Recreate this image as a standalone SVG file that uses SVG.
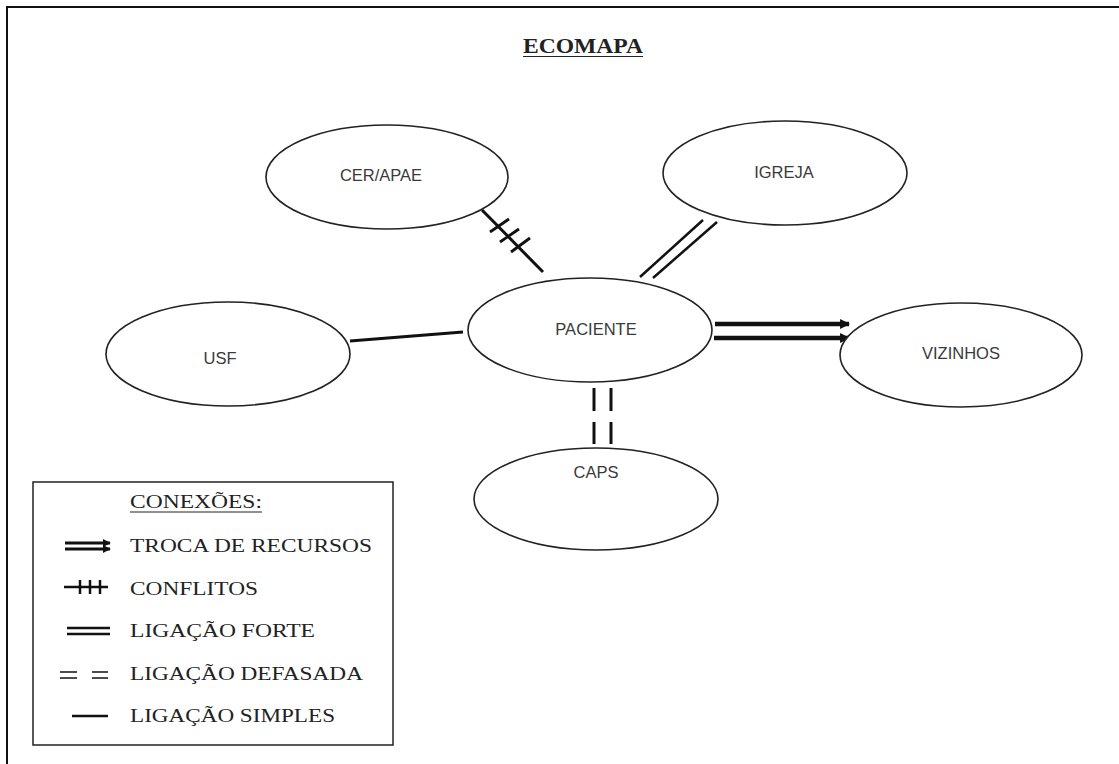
<svg xmlns="http://www.w3.org/2000/svg" width="1119" height="764" viewBox="0 0 1119 764">
<style>
.node ellipse{fill:#fff;stroke:#222;stroke-width:1.6}
.node text{font-family:"Liberation Sans",Arial,sans-serif;font-size:16.5px;fill:#3a3a3a;text-anchor:middle}
.ser{font-family:"Liberation Serif","Times New Roman",serif;fill:#222}
.ln{stroke:#111;fill:none;stroke-linecap:butt}
</style>
<defs>
<marker id="ah" viewBox="0 0 10 10" refX="9" refY="5" markerWidth="2.2" markerHeight="2.2" orient="auto" markerUnits="strokeWidth">
<path d="M0,0 L10,5 L0,10 z" fill="#111"/>
</marker>
<marker id="ahs" viewBox="0 0 10 10" refX="9" refY="5" markerWidth="2.6" markerHeight="2.6" orient="auto" markerUnits="strokeWidth">
<path d="M0,0 L10,5 L0,10 z" fill="#111"/>
</marker>
</defs>
<rect width="1119" height="764" fill="#fff"/>
<path d="M7,764 V7 H1119" fill="none" stroke="#111" stroke-width="2"/>

<g id="title">
<text class="ser" x="523" y="53" font-size="20" font-weight="bold" textLength="120" lengthAdjust="spacingAndGlyphs">ECOMAPA</text>
<line x1="523" y1="56.5" x2="643" y2="56.5" stroke="#222" stroke-width="1.2"/>
</g>

<g id="connectors">
<line class="ln" x1="482" y1="210" x2="543" y2="272" stroke-width="3"/>
<line class="ln" x1="490" y1="232" x2="509" y2="219" stroke-width="2.8"/>
<line class="ln" x1="500" y1="242" x2="519" y2="229" stroke-width="2.8"/>
<line class="ln" x1="511" y1="252" x2="530" y2="238" stroke-width="2.8"/>
<line class="ln" x1="640" y1="277" x2="703" y2="220" stroke-width="2.5"/>
<line class="ln" x1="653" y1="278" x2="717" y2="222" stroke-width="2.5"/>
<line class="ln" x1="715" y1="324" x2="849" y2="324" stroke-width="4.5" marker-end="url(#ah)"/>
<line class="ln" x1="714" y1="338" x2="849" y2="338" stroke-width="4.5" marker-end="url(#ah)"/>
<line class="ln" x1="594" y1="388" x2="594" y2="411" stroke-width="3"/>
<line class="ln" x1="611" y1="388" x2="611" y2="411" stroke-width="3"/>
<line class="ln" x1="594" y1="422" x2="594" y2="444" stroke-width="3"/>
<line class="ln" x1="611" y1="422" x2="611" y2="444" stroke-width="3"/>
<line class="ln" x1="350" y1="341" x2="463" y2="332" stroke-width="2.8"/>
</g>

<g id="node-cer" class="node">
<ellipse cx="387" cy="177" rx="121" ry="52"/>
<text x="381" y="181">CER/APAE</text>
</g>
<g id="node-igreja" class="node">
<ellipse cx="785" cy="173" rx="122" ry="52"/>
<text x="784" y="178">IGREJA</text>
</g>
<g id="node-usf" class="node">
<ellipse cx="228" cy="354" rx="122" ry="52"/>
<text x="220" y="364">USF</text>
</g>
<g id="node-paciente" class="node">
<ellipse cx="590" cy="330" rx="122" ry="52"/>
<text x="596" y="335">PACIENTE</text>
</g>
<g id="node-vizinhos" class="node">
<ellipse cx="961" cy="355" rx="121" ry="52"/>
<text x="961" y="359">VIZINHOS</text>
</g>
<g id="node-caps" class="node">
<ellipse cx="596" cy="499" rx="122" ry="51"/>
<text x="596" y="478">CAPS</text>
</g>

<g id="legend">
<rect x="33" y="482" width="360" height="263" fill="#fff" stroke="#222" stroke-width="1.5"/>
<text class="ser" x="130" y="508" font-size="19" textLength="132" lengthAdjust="spacingAndGlyphs">CONEXÕES:</text>
<line x1="130" y1="512" x2="262" y2="512" stroke="#222" stroke-width="1"/>
<line class="ln" x1="65" y1="543" x2="110" y2="543" stroke-width="3" marker-end="url(#ahs)"/>
<line class="ln" x1="65" y1="549" x2="110" y2="549" stroke-width="3" marker-end="url(#ahs)"/>
<text class="ser" x="130" y="552" font-size="19" textLength="242" lengthAdjust="spacingAndGlyphs">TROCA DE RECURSOS</text>
<line class="ln" x1="64" y1="587" x2="108" y2="587" stroke-width="2.5"/>
<line class="ln" x1="80" y1="580" x2="80" y2="594" stroke-width="2.5"/>
<line class="ln" x1="90" y1="580" x2="90" y2="594" stroke-width="2.5"/>
<line class="ln" x1="100" y1="580" x2="100" y2="594" stroke-width="2.5"/>
<text class="ser" x="130" y="595" font-size="19" textLength="128" lengthAdjust="spacingAndGlyphs">CONFLITOS</text>
<line class="ln" x1="67" y1="628" x2="110" y2="628" stroke-width="2.5"/>
<line class="ln" x1="67" y1="634" x2="110" y2="634" stroke-width="2.5"/>
<text class="ser" x="130" y="637" font-size="19" textLength="185" lengthAdjust="spacingAndGlyphs">LIGAÇÃO FORTE</text>
<line class="ln" x1="60" y1="672" x2="77" y2="672" stroke-width="1.5"/>
<line class="ln" x1="60" y1="678" x2="77" y2="678" stroke-width="1.5"/>
<line class="ln" x1="92" y1="672" x2="108" y2="672" stroke-width="1.5"/>
<line class="ln" x1="92" y1="678" x2="108" y2="678" stroke-width="1.5"/>
<text class="ser" x="130" y="680" font-size="19" textLength="233" lengthAdjust="spacingAndGlyphs">LIGAÇÃO DEFASADA</text>
<line class="ln" x1="72" y1="716" x2="108" y2="716" stroke-width="2.5"/>
<text class="ser" x="130" y="722" font-size="19" textLength="205" lengthAdjust="spacingAndGlyphs">LIGAÇÃO SIMPLES</text>
</g>
</svg>
